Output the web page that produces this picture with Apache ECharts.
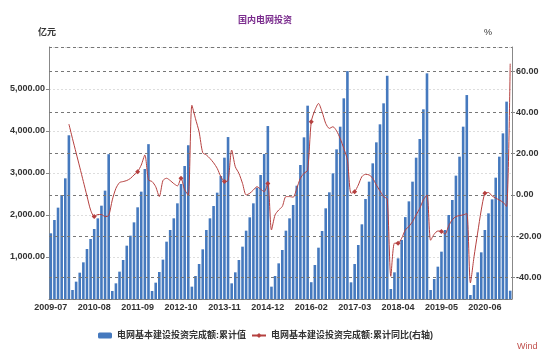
<!DOCTYPE html>
<html><head><meta charset="utf-8">
<script src="https://cdn.jsdelivr.net/npm/echarts@6/dist/echarts.min.js"></script>
<style>html,body{margin:0;padding:0;background:#fff}#c{width:550px;height:357px}</style>
</head><body><div id="c"></div>
<script>
var categories = [
'2009-07','2009-08','2009-09','2009-10','2009-11','2009-12',
'2010-02','2010-03','2010-04','2010-05','2010-06','2010-07','2010-08','2010-09','2010-10','2010-11','2010-12',
'2011-02','2011-03','2011-04','2011-05','2011-06','2011-07','2011-08','2011-09','2011-10','2011-11','2011-12',
'2012-02','2012-03','2012-04','2012-05','2012-06','2012-07','2012-08','2012-09','2012-10','2012-11','2012-12',
'2013-02','2013-03','2013-04','2013-05','2013-06','2013-07','2013-08','2013-09','2013-10','2013-11','2013-12',
'2014-02','2014-03','2014-04','2014-05','2014-06','2014-07','2014-08','2014-09','2014-10','2014-11','2014-12',
'2015-02','2015-03','2015-04','2015-05','2015-06','2015-07','2015-08','2015-09','2015-10','2015-11','2015-12',
'2016-02','2016-03','2016-04','2016-05','2016-06','2016-07','2016-08','2016-09','2016-10','2016-11','2016-12',
'2017-02','2017-03','2017-04','2017-05','2017-06','2017-07','2017-08','2017-09','2017-10','2017-11','2017-12',
'2018-02','2018-03','2018-04','2018-05','2018-06','2018-07','2018-08','2018-09','2018-10','2018-11','2018-12',
'2019-02','2019-03','2019-04','2019-05','2019-06','2019-07','2019-08','2019-09','2019-10','2019-11','2019-12',
'2020-02','2020-03','2020-04','2020-05','2020-06','2020-07','2020-08','2020-09','2020-10','2020-11','2020-12',
'2021-02'];

var cumValue = [
1564,1881,2175,2476,2873,3898,
214,413,627,873,1190,1429,1667,1920,2222,2580,3448,
190,373,651,929,1270,1508,1825,2183,2556,3095,3687,
190,389,643,937,1365,1643,1921,2278,2738,3167,3661,
294,548,833,1183,1643,1921,2214,2532,2929,3365,3856,
373,635,929,1246,1627,1944,2278,2651,2952,3452,4118,
294,548,849,1167,1627,1921,2238,2698,3190,3849,4603,
400,810,1222,1619,2159,2540,2992,3563,4103,4778,5426,
397,833,1286,1778,2381,2794,3230,3730,4159,4659,5315,
238,635,968,1405,1950,2325,2794,3365,3810,4516,5373,
214,476,770,1127,1643,2000,2357,2937,3389,4103,4856,
95,333,635,1111,1643,2040,2373,2889,3389,3944,4699,
198];

var cumYoY = [
null,null,null,null,null,34.4,
27.3,20.4,13.5,6.5,-0.5,-7.3,-10.5,-9.5,-9.5,-10.5,-10,
-2.4,3.2,6,6.5,7,8,9.7,11.3,14.5,19.4,7.3,
6.5,4,-0.8,7,8.1,7,5.5,4.4,8.1,2.5,0,
43.5,37,30.6,20.5,19.4,17.7,15.6,12.9,8.9,6.5,7,
21.8,13.7,10.5,5.6,0,0.8,2.4,4,2.8,1.6,5.6,
-17,-9.7,-7.3,-5.6,-0.8,-0.8,-1.1,3.2,8.1,10.5,12,
35.5,41.1,44.4,40.3,34.7,32.3,33.1,31.1,27.4,22.6,16.9,
0.8,1.6,4.8,8.9,10,9.7,8.1,4.8,2,-0.8,-2,
-39.5,-23.4,-23.4,-21,-17,-15.3,-12.9,-9.7,-6.5,-2.4,0,
-22,-19,-17.5,-17.7,-19,-15,-12,-10.5,-10,-9.7,-9,
-42.7,-30,-18.5,-7.3,0.8,1.2,-0.5,-1.5,-2.5,-3.5,-5.6,
63.7];

var seriesNames = ['电网基本建设投资完成额:累计值','电网基本建设投资完成额:累计同比(右轴)'];

var FONT = '"Liberation Sans","Noto Sans CJK SC",sans-serif';
var chart = echarts.init(document.getElementById('c'), null, {renderer:'canvas'});
var lineData = cumYoY.map(function(v,i){ return (i % 12 === 0) ? v : {value: v, symbol: 'none'}; });
var lbl = {fontSize: 9, fontWeight: 'bold', color: '#333', margin: 4, fontFamily: FONT};

chart.setOption({
  animation: false,
  textStyle: {fontFamily: FONT},
  title: {text: '国内电网投资', left: 233, top: 11,
    textStyle: {fontSize: 9, fontWeight: 'bold', color: '#7B2D8E', fontFamily: FONT}},
  graphic: [
    {type: 'text', left: 38, top: 28, style: {text: '亿元', fill: '#333', font: 'bold 9px ' + FONT}},
    {type: 'text', left: 484, top: 28, style: {text: '%', fill: '#333', font: '9px ' + FONT}},
    {type: 'text', left: 517, top: 342, style: {text: 'Wind', fill: '#C0504D', font: '9px ' + FONT}}
  ],
  legend: {
    data: seriesNames, left: 93, top: 326, itemWidth: 14, itemHeight: 6, itemGap: 5,
    textStyle: {fontSize: 9, fontWeight: 'bold', color: '#333', fontFamily: FONT}
  },
  grid: {left: 49, right: 38, top: 47, bottom: 58},
  xAxis: {
    type: 'category', data: categories,
    axisLine: {lineStyle: {color: '#888'}},
    axisTick: {show: false},
    axisLabel: Object.assign({interval: 11}, lbl)
  },
  yAxis: [
    {type: 'value', min: 0, max: 6000, interval: 1000, position: 'left',
     axisLine: {show: true, lineStyle: {color: '#888'}},
     axisTick: {show: true, length: 3, lineStyle: {color: '#888'}},
     axisLabel: Object.assign({showMinLabel: false, showMaxLabel: false,
       formatter: function(v){ return v.toLocaleString('en-US', {minimumFractionDigits: 2, maximumFractionDigits: 2}); }}, lbl),
     splitLine: {lineStyle: {color: '#ddd', type: [2, 2]}}},
    {type: 'value', min: -50.5, max: 71.8, splitNumber: 6, position: 'right', z: 3,
     axisLine: {show: true, lineStyle: {color: '#888'}},
     axisTick: {show: true, length: 3, lineStyle: {color: '#888'}},
     axisLabel: Object.assign({showMinLabel: false, showMaxLabel: false,
       formatter: function(v){ return v.toFixed(2); }}, lbl),
     splitLine: {lineStyle: {color: '#777', type: [3, 3]}}}
  ],
  series: [
    {name: seriesNames[0], type: 'bar', yAxisIndex: 0, data: cumValue,
     barCategoryGap: '28%', itemStyle: {color: '#4579BE'}, z: 2},
    {name: seriesNames[1], type: 'line', yAxisIndex: 1, data: lineData,
     symbol: 'diamond', symbolSize: 5, showAllSymbol: true, smooth: 0.25, z: 4,
     lineStyle: {color: '#B5403F', width: 1}, itemStyle: {color: '#B5403F'}}
  ]
});
</script></body></html>
